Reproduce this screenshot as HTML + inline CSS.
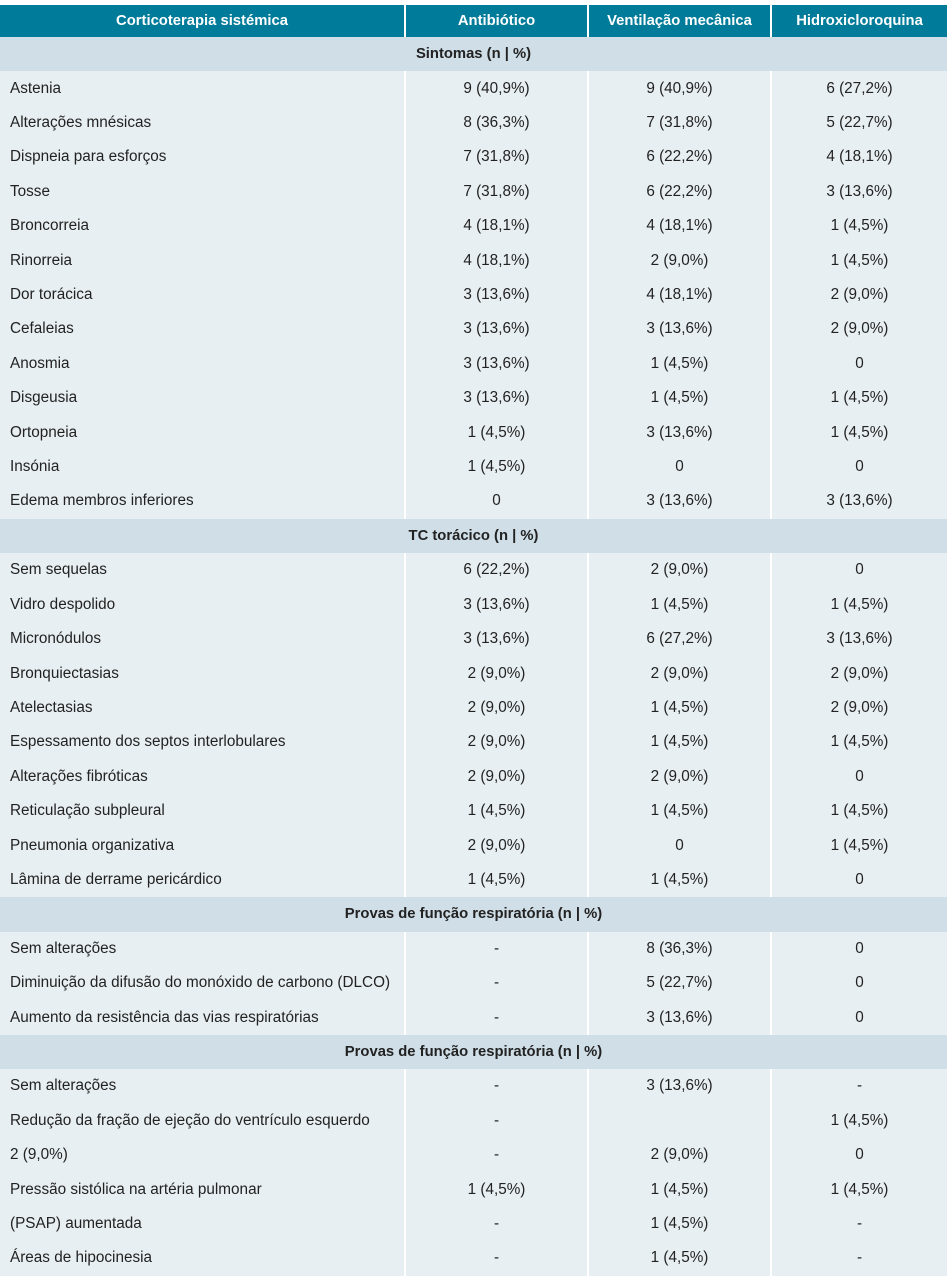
<!DOCTYPE html>
<html><head><meta charset="utf-8"><style>
body{margin:0;background:#fff;width:947px;height:1281px;overflow:hidden;font-family:"Liberation Sans",Arial,sans-serif;}
table{position:absolute;left:0;top:5px;width:947px;border-collapse:collapse;table-layout:fixed;font-size:15.3px;color:#222;}
th{background:#007c9a;color:#fff;font-weight:bold;height:32px;padding:0;text-align:center;border-left:2px solid #fff;font-size:14.8px;}
th:first-child{border-left:none}
td{height:34.42px;padding:0;background:#e8eff3;text-align:center;border-left:2px solid #fff;}
td:first-child{text-align:left;padding-left:10px;border-left:none}
tr.s td{background:#d0dfe7;font-weight:bold;text-align:center;padding:0;font-size:14.8px;}
</style></head><body>
<table>
<colgroup><col style="width:405px"><col style="width:183px"><col style="width:183px"><col style="width:176px"></colgroup>
<tr><th>Corticoterapia sistémica</th><th>Antibiótico</th><th>Ventilação mecânica</th><th>Hidroxicloroquina</th></tr>
<tr class="s"><td colspan="4">Sintomas (n | %)</td></tr>
<tr><td>Astenia</td><td>9 (40,9%)</td><td>9 (40,9%)</td><td>6 (27,2%)</td></tr>
<tr><td>Alterações mnésicas</td><td>8 (36,3%)</td><td>7 (31,8%)</td><td>5 (22,7%)</td></tr>
<tr><td>Dispneia para esforços</td><td>7 (31,8%)</td><td>6 (22,2%)</td><td>4 (18,1%)</td></tr>
<tr><td>Tosse</td><td>7 (31,8%)</td><td>6 (22,2%)</td><td>3 (13,6%)</td></tr>
<tr><td>Broncorreia</td><td>4 (18,1%)</td><td>4 (18,1%)</td><td>1 (4,5%)</td></tr>
<tr><td>Rinorreia</td><td>4 (18,1%)</td><td>2 (9,0%)</td><td>1 (4,5%)</td></tr>
<tr><td>Dor torácica</td><td>3 (13,6%)</td><td>4 (18,1%)</td><td>2 (9,0%)</td></tr>
<tr><td>Cefaleias</td><td>3 (13,6%)</td><td>3 (13,6%)</td><td>2 (9,0%)</td></tr>
<tr><td>Anosmia</td><td>3 (13,6%)</td><td>1 (4,5%)</td><td>0</td></tr>
<tr><td>Disgeusia</td><td>3 (13,6%)</td><td>1 (4,5%)</td><td>1 (4,5%)</td></tr>
<tr><td>Ortopneia</td><td>1 (4,5%)</td><td>3 (13,6%)</td><td>1 (4,5%)</td></tr>
<tr><td>Insónia</td><td>1 (4,5%)</td><td>0</td><td>0</td></tr>
<tr><td>Edema membros inferiores</td><td>0</td><td>3 (13,6%)</td><td>3 (13,6%)</td></tr>
<tr class="s"><td colspan="4">TC torácico (n | %)</td></tr>
<tr><td>Sem sequelas</td><td>6 (22,2%)</td><td>2 (9,0%)</td><td>0</td></tr>
<tr><td>Vidro despolido</td><td>3 (13,6%)</td><td>1 (4,5%)</td><td>1 (4,5%)</td></tr>
<tr><td>Micronódulos</td><td>3 (13,6%)</td><td>6 (27,2%)</td><td>3 (13,6%)</td></tr>
<tr><td>Bronquiectasias</td><td>2 (9,0%)</td><td>2 (9,0%)</td><td>2 (9,0%)</td></tr>
<tr><td>Atelectasias</td><td>2 (9,0%)</td><td>1 (4,5%)</td><td>2 (9,0%)</td></tr>
<tr><td>Espessamento dos septos interlobulares</td><td>2 (9,0%)</td><td>1 (4,5%)</td><td>1 (4,5%)</td></tr>
<tr><td>Alterações fibróticas</td><td>2 (9,0%)</td><td>2 (9,0%)</td><td>0</td></tr>
<tr><td>Reticulação subpleural</td><td>1 (4,5%)</td><td>1 (4,5%)</td><td>1 (4,5%)</td></tr>
<tr><td>Pneumonia organizativa</td><td>2 (9,0%)</td><td>0</td><td>1 (4,5%)</td></tr>
<tr><td>Lâmina de derrame pericárdico</td><td>1 (4,5%)</td><td>1 (4,5%)</td><td>0</td></tr>
<tr class="s"><td colspan="4">Provas de função respiratória (n | %)</td></tr>
<tr><td>Sem alterações</td><td>-</td><td>8 (36,3%)</td><td>0</td></tr>
<tr><td>Diminuição da difusão do monóxido de carbono (DLCO)</td><td>-</td><td>5 (22,7%)</td><td>0</td></tr>
<tr><td>Aumento da resistência das vias respiratórias</td><td>-</td><td>3 (13,6%)</td><td>0</td></tr>
<tr class="s"><td colspan="4">Provas de função respiratória (n | %)</td></tr>
<tr><td>Sem alterações</td><td>-</td><td>3 (13,6%)</td><td>-</td></tr>
<tr><td>Redução da fração de ejeção do ventrículo esquerdo</td><td>-</td><td></td><td>1 (4,5%)</td></tr>
<tr><td>2 (9,0%)</td><td>-</td><td>2 (9,0%)</td><td>0</td></tr>
<tr><td>Pressão sistólica na artéria pulmonar</td><td>1 (4,5%)</td><td>1 (4,5%)</td><td>1 (4,5%)</td></tr>
<tr><td>(PSAP) aumentada</td><td>-</td><td>1 (4,5%)</td><td>-</td></tr>
<tr><td>Áreas de hipocinesia</td><td>-</td><td>1 (4,5%)</td><td>-</td></tr>
</table>
</body></html>
